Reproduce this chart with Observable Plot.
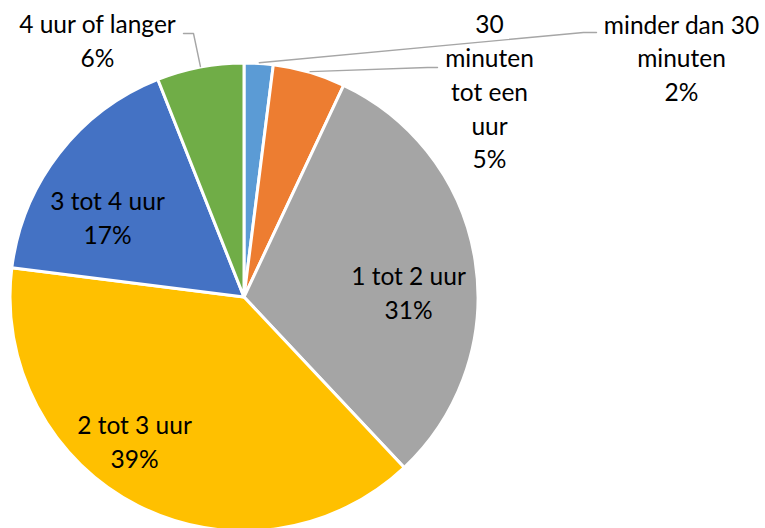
<!DOCTYPE html>
<html><head><meta charset="utf-8">
<script src="https://cdn.jsdelivr.net/npm/d3@7"></script>
<script src="https://cdn.jsdelivr.net/npm/@observablehq/plot@0.6"></script>
<style>body{margin:0;background:#fff}</style>
</head><body><div id="chart"></div>
<script>
// ---- data ----
const categories = ["minder dan 30 minuten", "30 minuten tot een uur", "1 tot 2 uur", "2 tot 3 uur", "3 tot 4 uur", "4 uur of langer"];
const values = [2, 5, 31, 39, 17, 6];
const labelLines = [["minder dan 30", "minuten"], ["30", "minuten", "tot een", "uur"], ["1 tot 2 uur"], ["2 tot 3 uur"], ["3 tot 4 uur"], ["4 uur of langer"]];

// ---- styles / layout (pixel units relative to pie centre, y up) ----
const colors = ["#5B9BD5", "#ED7D31", "#A5A5A5", "#FFC000", "#4472C4", "#70AD47"];
const R = 234;
const labelAt = [[437, 241], [245, 207.5], [164, 6], [-110, -142.5], [-137, 81.5], [-147, 258]];
const leaderElbow = [[[339, 265], [352, 265]], [[183, 230], [193, 230]], null, null, null, [[-51, 264], [-61, 264]]];

const arcs = d3.pie().sort(null).value(d => d)(values);
const slices = arcs.map((a, i) => ({...a, category: categories[i], color: colors[i]}));
const labels = slices.map((s, i) => ({text: [...labelLines[i], values[i] + "%"].join("\n"), x: labelAt[i][0], y: labelAt[i][1]}));
const leaders = [];
slices.forEach((s, i) => {
  if (!leaderElbow[i]) return;
  const m = (s.startAngle + s.endAngle) / 2;
  const pts = [[Math.sin(m) * R * 1.005, Math.cos(m) * R * 1.005], ...leaderElbow[i]];
  pts.forEach(p => leaders.push({x: p[0], y: p[1], k: i}));
});

const pieMark = (index, scales) => {
  const cx = scales.x(0), cy = scales.y(0), r = scales.x(R) - scales.x(0);
  const arc = d3.arc().innerRadius(0).outerRadius(r);
  const g = d3.create("svg:g").attr("transform", `translate(${cx},${cy})`);
  g.selectAll("path").data(slices).join("path")
    .attr("d", arc).attr("fill", d => d.color)
    .attr("stroke", "#fff").attr("stroke-width", 3).attr("stroke-linejoin", "round");
  return g.node();
};

const chart = Plot.plot({
  width: 765, height: 528, margin: 0,
  x: {domain: [-244, 521], axis: null},
  y: {domain: [-231, 297], axis: null},
  style: {background: "#fff", fontFamily: "Lato, sans-serif"},
  marks: [
    pieMark,
    Plot.line(leaders, {x: "x", y: "y", z: "k", stroke: "#A6A6A6", strokeWidth: 1.4}),
    Plot.text(labels, {x: "x", y: "y", text: "text", fontSize: 24.5, lineHeight: 1.38, fill: "#000"})
  ]
});
document.getElementById("chart").append(chart);
</script>
</body></html>
